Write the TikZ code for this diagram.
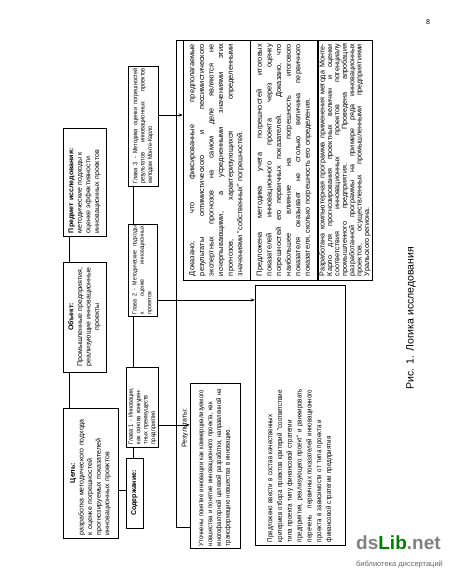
\documentclass[tikz,border=0pt]{standalone}
\usepackage{fontspec}
\setmainfont{Liberation Sans}
\newfontfamily\narrowf[FakeStretch=0.86]{Liberation Sans}
\usetikzlibrary{arrows.meta}
\begin{document}
\begin{tikzpicture}[x=1pt,y=-1pt,
  box/.style={draw, line width=0.5pt, rotate=90, inner sep=2pt, font=\fontsize{7}{8.6}\selectfont,
    execute at begin node={\hyphenpenalty=10000 \exhyphenpenalty=10000 }},
  chap/.style={box, font={\narrowf\fontsize{6.4}{7.4}\selectfont}},
  res/.style={box, align=justify, font=\fontsize{7.4}{9.6}\selectfont},
  conn/.style={line width=0.5pt},
  arr/.style={conn, -{Stealth[length=4pt,width=3pt]}}]
\useasboundingbox (0,0) rectangle (450,582);
% top row
\node[box, minimum width=130pt, minimum height=55pt, text width=124pt, align=left] (goal) at (90.5,473)
  {\makebox[124pt][c]{\textbf{Цель:}}\\ разработка методического подхода\\ к оценке погрешностей\\ прогнозируемых показателей\\ инновационных проектов};
\node[box, minimum width=110pt, minimum height=43pt, text width=104pt, align=center] (obj) at (84.5,317)
  {\textbf{Объект:}\\ Промышленные предприятия,\\ реализующие инновационные\\ проекты};
\node[box, minimum width=108pt, minimum height=43pt, text width=102pt, align=left] (subj) at (84.5,182)
  {\textbf{Предмет исследования:}\\ методические подходы к\\ оценке эффективности\\ инновационных проектов};
% content row
\node[box, minimum width=70pt, minimum height=17pt] (cont) at (134.5,493) {\textbf{Содержание:}};
\node[chap, minimum width=80pt, minimum height=29pt, text width=74pt, align=left] (ch1) at (142.5,407)
  {Глава 1 - Инновации,\\ как основа конкурен-\\ тных преимуществ\\ предприятия};
\node[chap, minimum width=92pt, minimum height=29pt, text width=88pt, align=justify, font={\narrowf\fontsize{6.1}{7.4}\selectfont}] (ch2) at (142.5,270)
  {Глава 2 - Методические подходы\linebreak к оценке инновационных\linebreak проектов};
\node[chap, minimum width=120pt, minimum height=30pt, text width=115pt, align=justify] (ch3) at (143,126)
  {Глава 3 - Методика оценки погрешностей\linebreak результатов инновационных проектов\linebreak методом Монте-Карло};
% results
\node[rotate=90, inner sep=1pt, font=\fontsize{7}{8}\selectfont] (reslab) at (185,428) {Результаты:};
\node[res, minimum width=165pt, minimum height=50pt, text width=161pt, align=left, font={\narrowf\fontsize{6.9}{8.8}\selectfont}] (r1) at (215,465.5)
  {Уточнены понятие инновации как коммерциализуемого\\ новшества и понятие инновационного проекта, как\\ многофакторной целевой разработки, направленной на\\ трансформацию новшества в инновацию.};
\node[res, minimum width=260pt, minimum height=90pt, text width=254pt, align=left, font={\narrowf\fontsize{7.2}{9.8}\selectfont}] (r2) at (300,415)
  {Предложено ввести в состав качественных\\ критериев отбора проектов критерий "соответствие\\ типа проекта типу финансовой стратегии\\ предприятия, реализующего проект" и ранжировать\\ перечень \ \ первичных показателей инновационного\\ проекта в зависимости от типа проекта и\\ финансовой стратегии предприятия\par\vspace{12pt}};
\node[res, minimum width=240pt, minimum height=67pt, text width=232pt] (r3) at (216.5,160)
  {Доказано, что фиксированные предполагаемые\linebreak результаты оптимистического и пессимистического\linebreak экспертных прогнозов на самом деле являются не\linebreak исчерпывающими, а усредненными значениями этих\linebreak прогнозов, характеризующихся определенными\linebreak значениями "собственных" погрешностей.};
\node[res, minimum width=240pt, minimum height=68pt, text width=232pt] (r4) at (284,160)
  {Предложена методика учета погрешностей итоговых\linebreak показателей инновационного проекта через оценку\linebreak погрешностей его первичных показателей. Доказано, что\linebreak наибольшее влияние на погрешность итогового\linebreak показателя оказывает не столько величина первичного\linebreak показателя, сколько погрешность его определения.};
\node[res, minimum width=240pt, minimum height=54pt, text width=232pt, font=\fontsize{7.2}{7.4}\selectfont] (r5) at (345,160)
  {Разработана компьютерная программа применения метода Монте-\linebreak Карло для прогнозирования проектных величин и оценки\linebreak соответствия инновационных проектов потенциалу\linebreak промышленного предприятия. Проведена апробация\linebreak разработанной программы на примере ряда инновационных\linebreak проектов, осуществленных промышленными предприятиями\linebreak Уральского региона.};
% connectors
\coordinate (a1) at (69,0);
\draw[conn] (obj.west -| a1) -- (goal.east -| a1);
\draw[conn] (subj.west -| a1) -- (obj.east -| a1);
\coordinate (y490) at (0,490);
\draw[conn] (goal.south |- y490) -- (cont.north |- y490);
\coordinate (x133) at (133,0);
\draw[conn] (cont.east -| x133) -- (ch1.west -| x133);
\draw[conn] (ch1.east -| x133) -- (ch2.west -| x133);
\draw[conn] (ch2.east -| x133) -- (ch3.west -| x133);
\coordinate (y425) at (0,425);
\coordinate (y300) at (0,300);
\coordinate (y115) at (0,115);
\draw[arr] (ch1.south |- y425) -- (r1.north |- y425);
\draw[arr] (ch2.south |- y300) -- (r2.north |- y300);
\draw[arr] (ch3.south |- y115) -- (r3.north |- y115);
\coordinate (f1) at (176,40);
\coordinate (f2) at (176,527);
\draw[conn] (r3.north |- f1) -- (f1) -- (f2) -- (r1.north |- f2);
% caption and page
\node[rotate=90, font=\fontsize{10.5}{12}\selectfont] (cap) at (411,318) {Рис. 1. Логика исследования};
\node[font=\fontsize{7}{8}\selectfont] (pg) at (428,22) {8};
\node[font=\fontsize{19}{20}\selectfont\bfseries, anchor=west, inner sep=0pt] (wm) at (356,543) {\textcolor{black!50}{ds}\textcolor{green!50!black}{Lib}\textcolor{black!50}{.net}};
\node[font=\fontsize{7.5}{8}\selectfont, text=black!60, anchor=west, inner sep=0pt] (wm2) at (356,564) {библиотека диссертаций};
\end{tikzpicture}
\end{document}
